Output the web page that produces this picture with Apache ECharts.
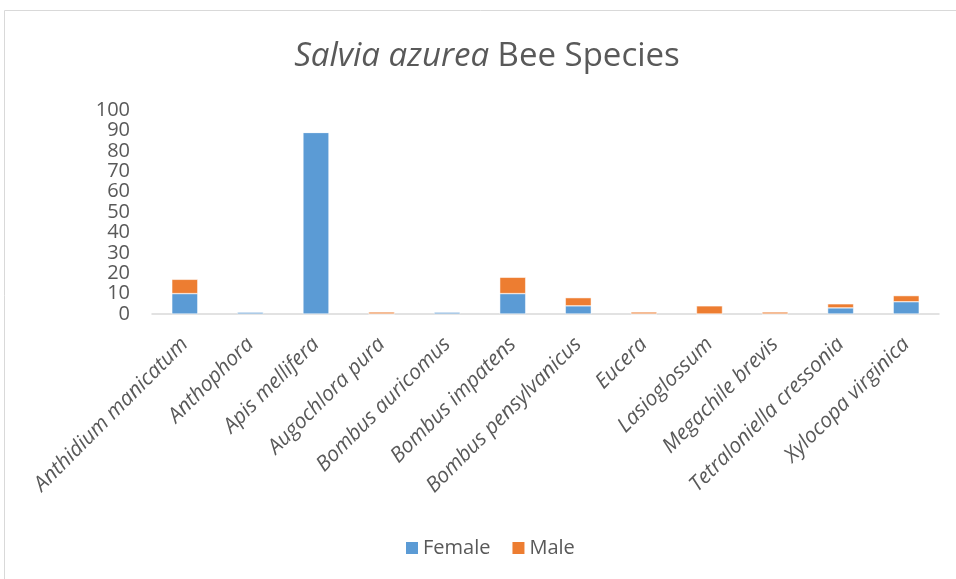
<!DOCTYPE html>
<html>
<head>
<meta charset="utf-8">
<script src="https://cdn.jsdelivr.net/npm/echarts@6/dist/echarts.min.js"></script>
<style>html,body{margin:0;padding:0;background:#fff}#c{width:956px;height:579px}</style>
</head>
<body>
<div id="c"></div>
<script>
const categories = ['Anthidium manicatum','Anthophora','Apis mellifera','Augochlora pura','Bombus auricomus','Bombus impatens','Bombus pensylvanicus','Eucera','Lasioglossum','Megachile brevis','Tetraloniella cressonia','Xylocopa virginica'];
const female = [10, 1, 89, 0, 1, 10, 4, 0, 0, 0, 3, 6];
const male   = [7, 0, 0, 1, 0, 8, 4, 1, 4, 1, 2, 3];
const yTicks = [0,10,20,30,40,50,60,70,80,90,100];

const FONT = 'Open Sans';
const chart = echarts.init(document.getElementById('c'), null, {renderer:'canvas'});
chart.setOption({
  animation: false,
  textStyle: {fontFamily: FONT},
  graphic: [
    {type:'rect', shape:{x:4.5, y:10.5, width:1000, height:1000}, style:{fill:'none', stroke:'#d9d9d9', lineWidth:1}, silent:true},
    {type:'text', x:487, y:57, style:{
      text:'{i|Salvia azurea}{n| Bee Species}',
      align:'center', verticalAlign:'middle',
      rich:{
        i:{fontFamily:FONT, fontStyle:'italic', fontSize:33, fill:'#595959'},
        n:{fontFamily:FONT, fontSize:33, fill:'#595959'}
      }
    }}
  ],
  legend: {
    data:['Female','Male'],
    left: 404, top: 538, padding: 0,
    itemWidth:14, itemHeight:14, itemGap:20,
    icon:'rect',
    textStyle:{fontFamily:FONT, fontSize:20, color:'#595959', padding:[0,0,0,-1]}
  },
  grid: {left:152, right:17, top:110, bottom:265},
  xAxis: {
    type:'category', data: categories,
    axisLine:{lineStyle:{color:'#d9d9d9', width:1.5}},
    axisTick:{show:false},
    axisLabel:{rotate:45, interval:0, fontStyle:'italic', fontSize:21, color:'#595959', margin:27, fontFamily:FONT}
  },
  yAxis: {
    type:'value', min:0, max:100, interval:10,
    axisLine:{show:false}, axisTick:{show:false}, splitLine:{show:false},
    axisLabel:{fontSize:20, color:'#595959', margin:22, fontFamily:FONT,
      customValues: yTicks}
  },
  series: [
    {name:'Female', type:'bar', stack:'s', data:female, barWidth:26,
      itemStyle:{color:'#5B9BD5', borderColor:'#ffffff', borderWidth:0.5}},
    {name:'Male', type:'bar', stack:'s', data:male, barWidth:26,
      itemStyle:{color:'#ED7D31', borderColor:'#ffffff', borderWidth:0.5}}
  ]
});
</script>
</body>
</html>
